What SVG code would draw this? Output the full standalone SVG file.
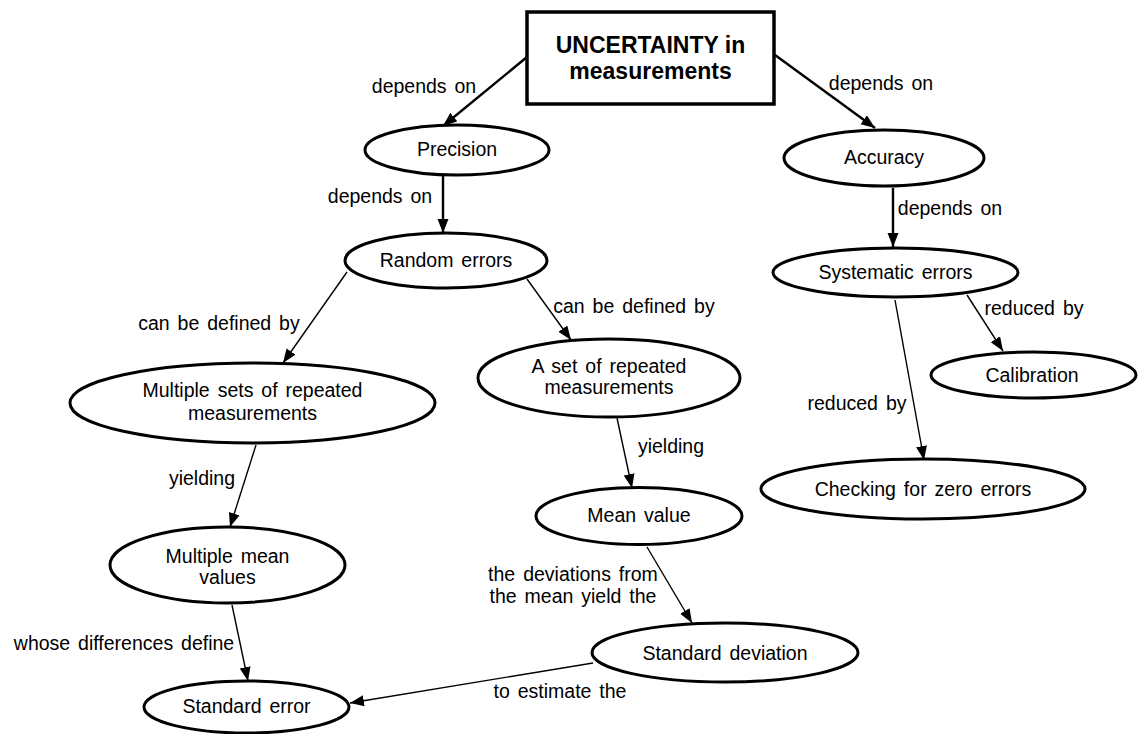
<svg xmlns="http://www.w3.org/2000/svg" width="1138" height="734" viewBox="0 0 1138 734">
<defs>
<style>
.bg{fill:#ffffff}
.node{fill:#ffffff;stroke:#000;stroke-width:3}
.box{fill:#ffffff;stroke:#000;stroke-width:3.5}
.t{font-family:"Liberation Sans",Arial,sans-serif;font-size:19.5px;fill:#000;text-anchor:middle;word-spacing:2.5px}
.tb{font-family:"Liberation Sans",Arial,sans-serif;font-size:23px;font-weight:bold;fill:#000;text-anchor:middle}
.lbl{font-family:"Liberation Sans",Arial,sans-serif;font-size:19.5px;fill:#000;text-anchor:middle;word-spacing:2.5px}
.e{stroke:#000;stroke-width:1.4;fill:none;marker-end:url(#ah)}
.e2{stroke:#000;stroke-width:2.4;fill:none;marker-end:url(#ah)}
</style>
<marker id="ah" markerUnits="userSpaceOnUse" markerWidth="15" markerHeight="12" refX="14" refY="5.5" orient="auto">
<path d="M0,0 L14,5.5 L0,11 z" fill="#000"/>
</marker>
</defs>
<rect class="bg" x="0" y="0" width="1138" height="734"/>
<g id="connectors">
<line class="e2" x1="527" y1="57" x2="443" y2="126"/>
<line class="e2" x1="775" y1="55" x2="875" y2="128"/>
<line class="e2" x1="443" y1="176" x2="443" y2="233"/>
<line class="e2" x1="893" y1="188" x2="893" y2="247"/>
<line class="e" x1="967" y1="295" x2="1003" y2="351"/>
<line class="e" x1="895" y1="300" x2="924" y2="460"/>
<line class="e" x1="347" y1="272" x2="283" y2="363"/>
<line class="e" x1="527" y1="279" x2="571" y2="340"/>
<line class="e" x1="256" y1="445" x2="230" y2="527"/>
<line class="e" x1="617" y1="418" x2="632" y2="488"/>
<line class="e" x1="647" y1="547" x2="692" y2="623"/>
<line class="e" x1="232" y1="605" x2="248" y2="681"/>
<line class="e" x1="593" y1="663" x2="350" y2="703"/>
<text class="lbl" x="424" y="93">depends on</text>
<text class="lbl" x="881" y="90">depends on</text>
<text class="lbl" x="380" y="203">depends on</text>
<text class="lbl" x="950" y="215">depends on</text>
<text class="lbl" x="1034" y="315">reduced by</text>
<text class="lbl" x="857" y="410">reduced by</text>
<text class="lbl" x="219" y="330">can be defined by</text>
<text class="lbl" x="634" y="313">can be defined by</text>
<text class="lbl" x="202" y="485">yielding</text>
<text class="lbl" x="671" y="453">yielding</text>
<text class="lbl" x="573" y="581">the deviations from</text>
<text class="lbl" x="573" y="603">the mean yield the</text>
<text class="lbl" x="124" y="650">whose differences define</text>
<text class="lbl" x="560" y="698">to estimate the</text>
</g>
<g id="uncertainty">
<rect class="box" x="527" y="12" width="247" height="92"/>
<text class="tb" x="650.5" y="53">UNCERTAINTY in</text>
<text class="tb" x="650.5" y="79">measurements</text>
</g>
<g id="precision">
<ellipse class="node" cx="457" cy="150" rx="92" ry="25"/>
<text class="t" x="457" y="156">Precision</text>
</g>
<g id="accuracy">
<ellipse class="node" cx="884" cy="158" rx="100" ry="28"/>
<text class="t" x="884" y="164">Accuracy</text>
</g>
<g id="random-errors">
<ellipse class="node" cx="446" cy="260.5" rx="101" ry="27.5"/>
<text class="t" x="446" y="267">Random errors</text>
</g>
<g id="systematic-errors">
<ellipse class="node" cx="895.5" cy="272.5" rx="122.5" ry="24.5"/>
<text class="t" x="895.5" y="279">Systematic errors</text>
</g>
<g id="calibration">
<ellipse class="node" cx="1033.5" cy="375" rx="102.5" ry="23"/>
<text class="t" x="1032" y="382">Calibration</text>
</g>
<g id="multiple-sets">
<ellipse class="node" cx="252.5" cy="403" rx="182.5" ry="40"/>
<text class="t" x="252.5" y="397">Multiple sets of repeated</text>
<text class="t" x="252.5" y="420">measurements</text>
</g>
<g id="a-set">
<ellipse class="node" cx="609" cy="378" rx="131" ry="39"/>
<text class="t" x="609" y="373">A set of repeated</text>
<text class="t" x="609" y="394">measurements</text>
</g>
<g id="checking">
<ellipse class="node" cx="923" cy="489" rx="162" ry="30"/>
<text class="t" x="923" y="496">Checking for zero errors</text>
</g>
<g id="mean-value">
<ellipse class="node" cx="639" cy="516" rx="103" ry="28.5"/>
<text class="t" x="639" y="522">Mean value</text>
</g>
<g id="multiple-mean">
<ellipse class="node" cx="227.5" cy="565" rx="117.5" ry="38"/>
<text class="t" x="227.5" y="563">Multiple mean</text>
<text class="t" x="227.5" y="584">values</text>
</g>
<g id="standard-deviation">
<ellipse class="node" cx="725" cy="652.5" rx="133" ry="29.5"/>
<text class="t" x="725" y="660">Standard deviation</text>
</g>
<g id="standard-error">
<ellipse class="node" cx="246.5" cy="707" rx="102.5" ry="26"/>
<text class="t" x="246.5" y="713">Standard error</text>
</g>
</svg>
